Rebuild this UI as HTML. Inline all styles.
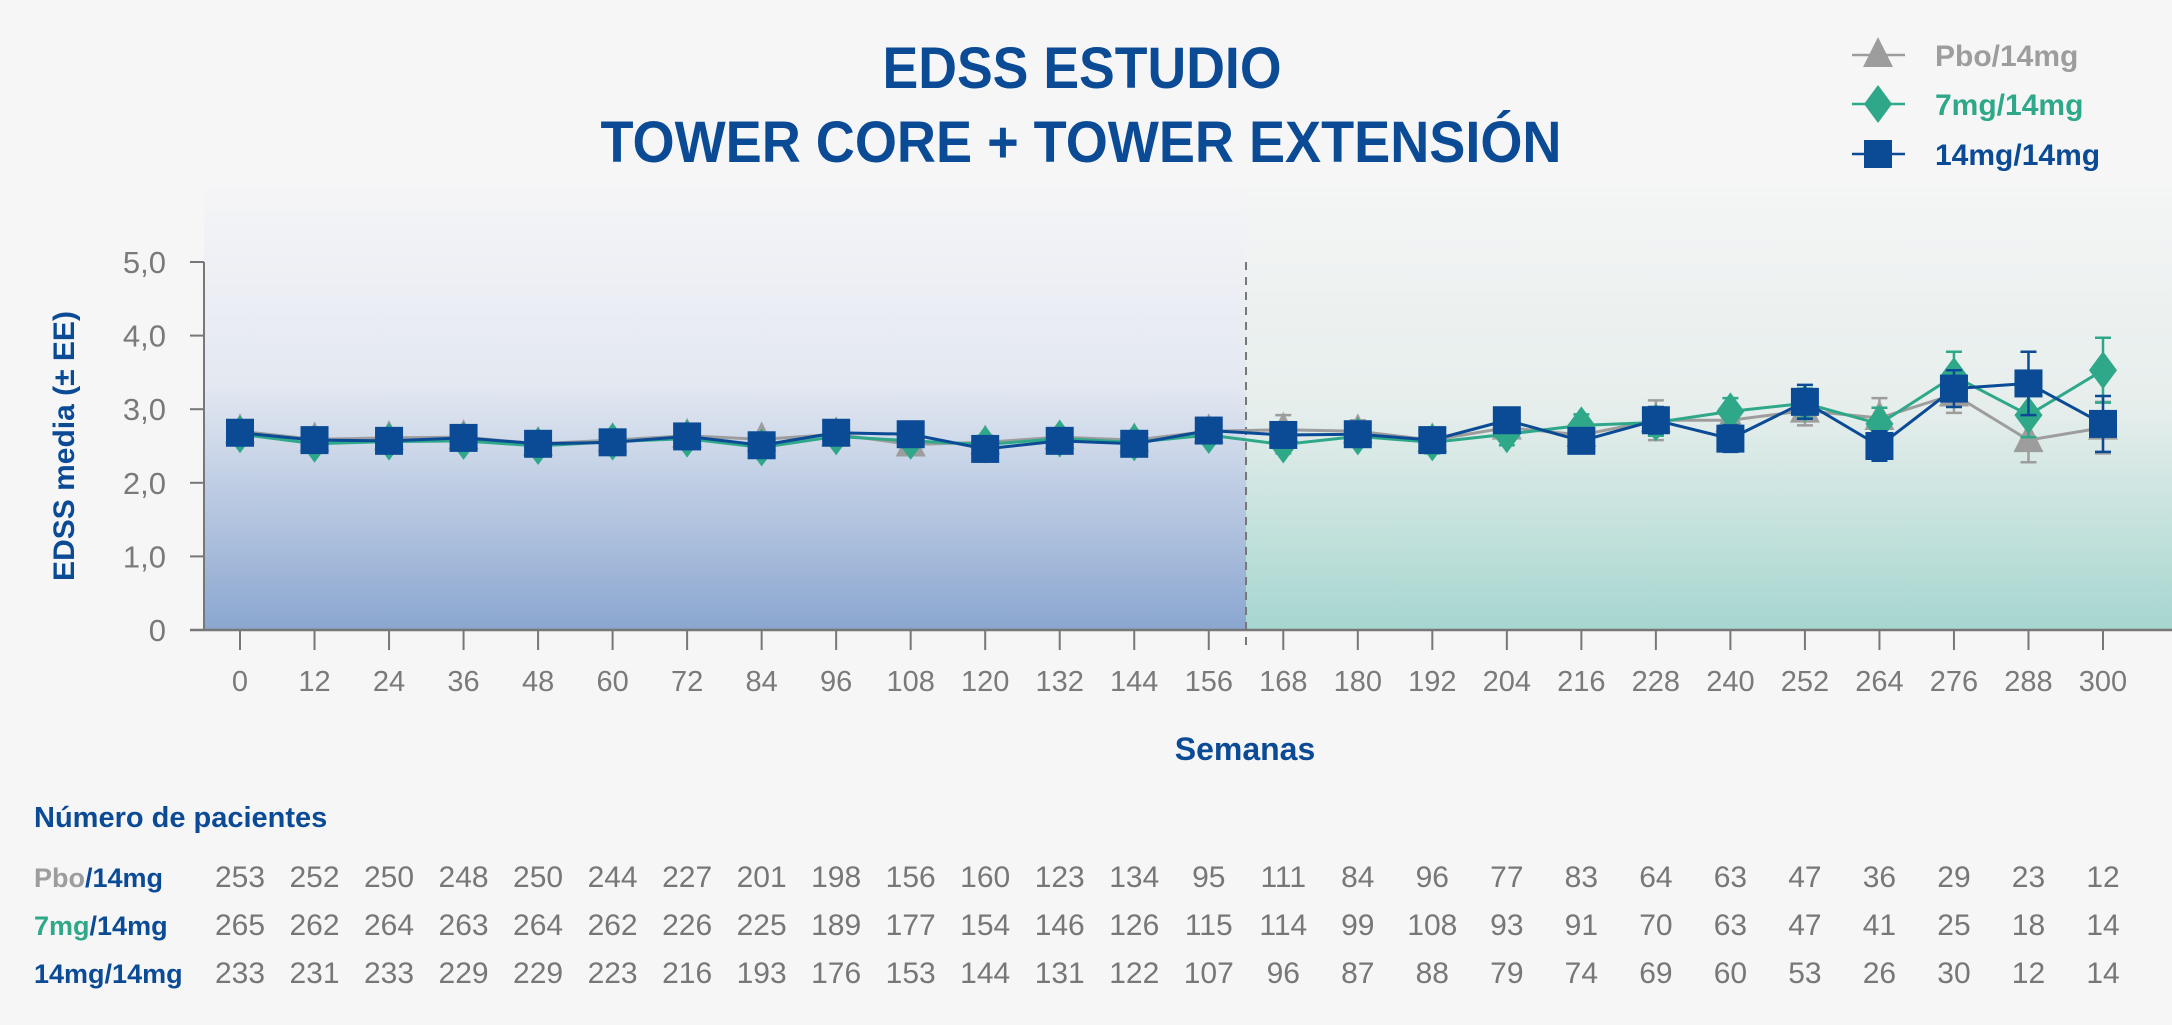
<!DOCTYPE html>
<html><head><meta charset="utf-8"><style>
html,body{margin:0;padding:0;background:#f7f6f7;}
svg{display:block;font-family:"Liberation Sans",sans-serif;}
</style></head><body>
<svg id="chart" width="2172" height="1025" viewBox="0 0 2172 1025" xmlns="http://www.w3.org/2000/svg">
<defs>
<linearGradient id="gBlue" x1="0" y1="0" x2="0" y2="1">
<stop offset="0" stop-color="#f5f5f7"/><stop offset="0.45" stop-color="#e3e8f1"/><stop offset="1" stop-color="#8aa6d0"/></linearGradient>
<linearGradient id="gGreen" x1="0" y1="0" x2="0" y2="1">
<stop offset="0" stop-color="#f4f5f5"/><stop offset="0.5" stop-color="#e6eeec"/><stop offset="1" stop-color="#a6d6cf"/></linearGradient>
</defs>
<g id="bg"></g>
<text x="1082" y="88" text-anchor="middle" font-size="58" font-weight="bold" fill="#0b4b96" textLength="399" lengthAdjust="spacingAndGlyphs">EDSS ESTUDIO</text>
<text x="1081" y="162" text-anchor="middle" font-size="58" font-weight="bold" fill="#0b4b96" textLength="961" lengthAdjust="spacingAndGlyphs">TOWER CORE + TOWER EXTENSIÓN</text>
<text transform="translate(74,446) rotate(-90)" text-anchor="middle" font-size="30" font-weight="bold" fill="#0b4b96">EDSS media (± EE)</text>
<text x="1245" y="760" text-anchor="middle" font-size="32" font-weight="bold" fill="#0b4b96">Semanas</text>
<text x="34" y="827" font-size="29" font-weight="bold" fill="#0b4b96">Número de pacientes</text>
<g id="axes"></g><g id="series"></g><g id="legend"></g><g id="table"></g>
</svg>
<script>
const weeks=[0,12,24,36,48,60,72,84,96,108,120,132,144,156,168,180,192,204,216,228,240,252,264,276,288,300];
const yTicks=[0,1,2,3,4,5];
const yTickLabels=["0","1,0","2,0","3,0","4,0","5,0"];
const pboVals=[2.70,2.59,2.61,2.62,2.53,2.58,2.64,2.59,2.66,2.52,2.55,2.62,2.58,2.70,2.72,2.70,2.58,2.75,2.65,2.85,2.85,2.98,2.88,3.20,2.58,2.75];
const pboSE=[0.07,0.07,0.07,0.07,0.07,0.08,0.08,0.08,0.08,0.08,0.09,0.09,0.09,0.1,0.2,0.15,0.12,0.15,0.15,0.27,0.2,0.2,0.27,0.25,0.3,0.35];
const g7Vals=[2.66,2.53,2.56,2.57,2.50,2.56,2.60,2.48,2.63,2.57,2.52,2.60,2.55,2.65,2.52,2.63,2.55,2.66,2.78,2.82,2.97,3.08,2.80,3.45,2.92,3.53];
const g7SE=[0.07,0.07,0.07,0.07,0.07,0.07,0.08,0.08,0.08,0.08,0.09,0.09,0.09,0.1,0.12,0.12,0.15,0.15,0.15,0.18,0.18,0.2,0.22,0.33,0.3,0.44];
const g14Vals=[2.68,2.58,2.57,2.61,2.53,2.55,2.63,2.51,2.68,2.66,2.46,2.57,2.53,2.71,2.65,2.66,2.58,2.85,2.57,2.85,2.60,3.10,2.50,3.28,3.35,2.80];
const g14SE=[0.07,0.07,0.07,0.07,0.07,0.07,0.08,0.08,0.08,0.08,0.09,0.09,0.09,0.1,0.12,0.12,0.12,0.15,0.15,0.18,0.18,0.23,0.2,0.25,0.43,0.38];
const nPbo=[253,252,250,248,250,244,227,201,198,156,160,123,134,95,111,84,96,77,83,64,63,47,36,29,23,12];
const n7=[265,262,264,263,264,262,226,225,189,177,154,146,126,115,114,99,108,93,91,70,63,47,41,25,18,14];
const n14=[233,231,233,229,229,223,216,193,176,153,144,131,122,107,96,87,88,79,74,69,60,53,26,30,12,14];

const NS="http://www.w3.org/2000/svg";
function mk(t,a,p){const e=document.createElementNS(NS,t);for(const k in a)e.setAttribute(k,a[k]);p.appendChild(e);return e;}
const X0=240,X1=2103,Y0=630,Y5=262;
const xs=w=>X0+(w-weeks[0])/(weeks[weeks.length-1]-weeks[0])*(X1-X0);
const ys=v=>Y0-(v/5)*(Y0-Y5);
const divX=(xs(156)+xs(168))/2;
const bg=document.getElementById('bg'),ax=document.getElementById('axes');
let r=mk('rect',{x:204,y:187,width:divX-204,height:Y0-187,fill:'url(#gBlue)'},bg);


r=mk('rect',{x:divX,y:187,width:2172-divX,height:Y0-187,fill:'url(#gGreen)'},bg);


let l=mk('line',{x1:divX,y1:262,x2:divX,y2:Y0+20,stroke:'#777',"stroke-width":2,"stroke-dasharray":"8,7"},ax);


l=mk('line',{x1:204,y1:Y5,x2:204,y2:Y0,stroke:'#777',"stroke-width":2},ax);


l=mk('line',{x1:190,y1:Y0,x2:2172,y2:Y0,stroke:'#777',"stroke-width":2.5},ax);


yTicks.forEach((v,i)=>{
 const y=ys(v);
 mk('line',{x1:190,y1:y,x2:204,y2:y,stroke:'#777',"stroke-width":2},ax);
 const t=mk('text',{x:166,y:y+11,"text-anchor":"end","font-size":31,fill:'#7a7a7a'},ax);
 
 
 t.textContent=yTickLabels[i];
});
weeks.forEach(w=>{
 const x=xs(w);
 mk('line',{x1:x,y1:Y0,x2:x,y2:Y0+20,stroke:'#777',"stroke-width":2},ax);
 const t=mk('text',{x:x,y:691,"text-anchor":"middle","font-size":29,fill:'#7a7a7a'},ax);
 
 
 t.textContent=w;
});
const sg=document.getElementById('series');
function marker(shape,x,y,c,p){
 if(shape==='tri')return mk('polygon',{points:`${x},${y-18} ${x-15},${y+12} ${x+15},${y+12}`,fill:c},p);
 if(shape==='dia')return mk('polygon',{points:`${x},${y-19} ${x+14},${y} ${x},${y+19} ${x-14},${y}`,fill:c},p);
 return mk('rect',{x:x-14,y:y-14,width:28,height:28,fill:c},p);
}
function series(name,vals,se,c,shape){
 const g=mk('g',{},sg);
 
 
 vals.forEach((v,i)=>{
  const x=xs(weeks[i]),yt=ys(v+se[i]),yb=ys(v-se[i]);
  const e=mk('path',{d:`M${x},${yt}V${yb}M${x-8},${yt}H${x+8}M${x-8},${yb}H${x+8}`,stroke:c,"stroke-width":2.5,fill:'none'},g);
  
  
 });
 const pl=mk('polyline',{points:vals.map((v,i)=>xs(weeks[i])+','+ys(v)).join(' '),fill:'none',stroke:c,"stroke-width":3},g);
 
 
 vals.forEach((v,i)=>{
  const m=marker(shape,xs(weeks[i]),ys(v),c,g);
  
  
 });
}
series('pbo-14mg',pboVals,pboSE,'#9d9d9d','tri');
series('7mg-14mg',g7Vals,g7SE,'#2ea889','dia');
series('14mg-14mg',g14Vals,g14SE,'#0b4b96','sq');
const lg=document.getElementById('legend');
[['Pbo/14mg','#9d9d9d','tri',55],['7mg/14mg','#2ea889','dia',104],['14mg/14mg','#0b4b96','sq',154]].forEach(d=>{
 const g=mk('g',{},lg);
 
 
 mk('line',{x1:1852,y1:d[3],x2:1905,y2:d[3],stroke:d[1],"stroke-width":2.5},g);
 marker(d[2],1878,d[3],d[1],g);
 const t=mk('text',{x:1935,y:d[3]+11,"font-size":30,"font-weight":"bold",fill:d[1]},g);
 t.textContent=d[0];
});
const tb=document.getElementById('table');
[[['Pbo','#9d9d9d'],['/14mg','#0b4b96'],nPbo,887],[['7mg','#2ea889'],['/14mg','#0b4b96'],n7,935],[['14mg','#0b4b96'],['/14mg','#0b4b96'],n14,983]].forEach(d=>{
 const g=mk('g',{},tb);
 
 
 const t=mk('text',{x:34,y:d[3],"font-size":27,"font-weight":"bold"},g);
 const a=mk('tspan',{fill:d[0][1]},t);a.textContent=d[0][0];
 const b=mk('tspan',{fill:d[1][1]},t);b.textContent=d[1][0];
 d[2].forEach((n,i)=>{
  const c=mk('text',{x:xs(weeks[i]),y:d[3],"text-anchor":"middle","font-size":30,fill:'#777'},g);
  
  
  c.textContent=n;
 });
});
</script>
</body></html>
